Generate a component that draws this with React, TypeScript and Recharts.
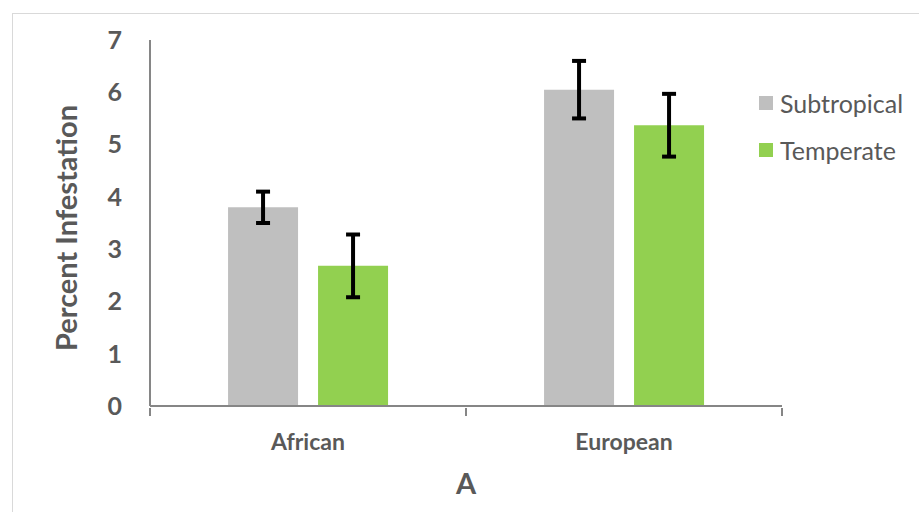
import { BarChart, Bar, XAxis, YAxis, ErrorBar, Legend } from "recharts";

const categories = ["African", "European"];
const subtropical = [3.8, 6.05];
const subtropicalErr = [0.3, 0.55];
const temperate = [2.68, 5.37];
const temperateErr = [0.6, 0.6];
const yTicks = [0, 1, 2, 3, 4, 5, 6, 7];

const data = categories.map((name, i) => ({
  name,
  Subtropical: subtropical[i],
  subErr: subtropicalErr[i],
  Temperate: temperate[i],
  tempErr: temperateErr[i],
}));

const FONT = "Lato, 'Open Sans', sans-serif";
const TEXT = "#595959";
const AXIS = "#868686";

function XTick(props: any) {
  const { x, y, payload } = props;
  const half = payload?.offset ?? 158;
  return (
    <g>
      <line x1={x - half} y1={y} x2={x - half} y2={y + 8} stroke={AXIS} strokeWidth={2} />
      <line x1={x + half} y1={y} x2={x + half} y2={y + 8} stroke={AXIS} strokeWidth={2} />
      <text
        x={x}
        y={y + 42}
        textAnchor="middle"
        fill={TEXT}
        fontSize={23}
        fontWeight={700}
        fontFamily={FONT}
      >
        {payload.value}
      </text>
    </g>
  );
}

function LegendBox(props: any) {
  const items = props.payload || [];
  return (
    <div style={{ fontFamily: FONT, fontSize: 25, color: TEXT, whiteSpace: "nowrap" }}>
      {items.map((it: any) => (
        <div key={it.value} style={{ display: "flex", alignItems: "center", height: 47 }}>
          <span
            style={{
              width: 14,
              height: 14,
              flexShrink: 0,
              background: it.color,
              marginRight: 7,
              display: "inline-block",
            }}
          />
          {it.value}
        </div>
      ))}
    </div>
  );
}

export default function App() {
  return (
    <div style={{ position: "fixed", left: 0, top: 0, width: 919, height: 512, background: "#fff", overflow: "hidden" }}>
      <div
        style={{
          position: "absolute",
          left: 12,
          top: 13,
          width: 920,
          height: 520,
          border: "1px solid #d9d9d9",
        }}
      />
      <div style={{ position: "absolute", left: 0, top: 0 }}>
        <BarChart
          width={919}
          height={512}
          data={data}
          margin={{ top: 40, right: 0, left: 0, bottom: 0 }}
          barCategoryGap="24.7%"
          barGap={20}
        >
          <YAxis
            width={150}
            domain={[0, 7]}
            ticks={yTicks}
            interval={0}
            axisLine={{ stroke: AXIS, strokeWidth: 2 }}
            tickLine={false}
            tickMargin={22}
            tick={{ fill: TEXT, fontSize: 25, fontWeight: 700, fontFamily: FONT }}
            label={{
              value: "Percent Infestation",
              angle: -90,
              position: "center",
              dx: -8,
              dy: 5,
              fill: TEXT,
              fontSize: 29,
              fontWeight: 700,
              fontFamily: FONT,
            }}
          />
          <XAxis
            dataKey="name"
            height={106}
            axisLine={{ stroke: AXIS, strokeWidth: 2 }}
            tickLine={false}
            tickSize={0}
            tick={<XTick />}
            label={{
              value: "A",
              position: "center",
              dy: 25,
              fill: TEXT,
              fontSize: 29,
              fontWeight: 700,
              fontFamily: FONT,
            }}
          />
          <Legend
            layout="vertical"
            align="right"
            verticalAlign="middle"
            content={<LegendBox />}
            wrapperStyle={{ left: 759, top: 79, width: 137 }}
          />
          <Bar dataKey="Subtropical" fill="#bfbfbf" isAnimationActive={false}>
            <ErrorBar dataKey="subErr" width={7} stroke="#000" strokeWidth={4} />
          </Bar>
          <Bar dataKey="Temperate" fill="#92d050" isAnimationActive={false}>
            <ErrorBar dataKey="tempErr" width={7} stroke="#000" strokeWidth={4} />
          </Bar>
        </BarChart>
      </div>
    </div>
  );
}
